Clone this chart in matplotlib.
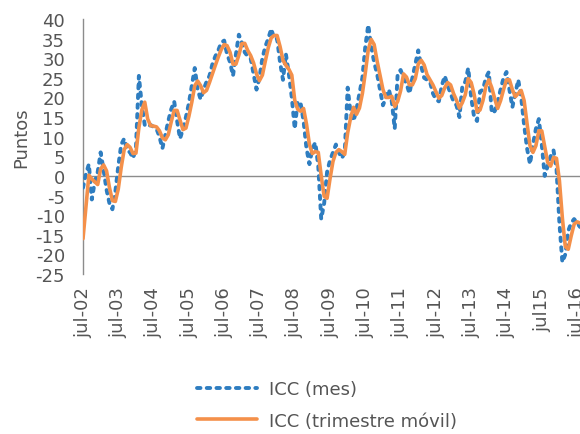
import matplotlib
matplotlib.use("Agg")
import matplotlib.pyplot as plt

# Monthly ICC index, jul-02 .. aug-16
icc_mes = [
    -3, 0.5, 3, -6, -1.5, 1, 6, 1.5, -3.5, -7, -8.5, -4,
    2.5, 8, 9.5, 6.5, 6, 4.5, 7, 25.5, 18, 13, 12.5, 13,
    12.5, 12, 10, 7, 10.5, 14, 17, 19, 14, 9.5, 12, 15,
    18.5, 23, 27.5, 22, 19.5, 22, 24, 25.5, 28.5, 30.5, 32, 34,
    34.5, 31, 29, 25.5, 31, 36, 34, 31.5, 30.5, 30, 26, 22,
    25, 30, 33, 35, 37.5, 35, 35, 29, 24.5, 31, 26, 20,
    12, 19, 18.5, 14, 7, 3, 7, 8.5, 2.5, -11, -7, 1,
    4, 6, 8, 6, 4.5, 6, 22.5, 16, 14, 17, 21, 25,
    33, 38.5, 33, 29, 26, 22, 18, 20, 22, 19, 12, 26,
    27, 25, 23.5, 21, 25, 28.5, 32, 28, 25, 24.5, 24, 21,
    19.5, 19, 23, 25.5, 23, 21, 19, 18, 15, 23, 24, 27.5,
    20, 15, 14, 21.5, 22, 25, 26.5, 16, 16.5, 19, 22, 25,
    26.5, 22, 17.5, 21, 24.5, 20, 13, 7, 3, 8, 12, 14.5,
    8, 0, 2.5, 5, 6.5, 2, -12, -22, -20, -14, -12, -11,
    -12, -13,
]

# Rolling-quarter ICC
icc_trim = [
    -16, -8, 0.2, -0.8, -1.5, -2.2, 1.8, 2.8, 1.3, -3, -6.3, -6.5,
    -3.3, 2.2, 6.7, 8, 7.3, 5.7, 5.8, 12.3, 16.8, 18.8, 14.5, 12.8,
    12.7, 12.5, 11.5, 9.7, 9.2, 10.5, 13.8, 16.7, 16.7, 14.2, 11.8, 12.2,
    15.2, 18.8, 23, 24.2, 23, 21.2, 21.8, 23.8, 26, 28.2, 30.3, 32.2,
    33.5, 33.2, 31.5, 28.5, 28.5, 30.8, 33.7, 33.8, 32, 30.7, 28.8, 26,
    24.3, 25.7, 29.3, 32.7, 35.2, 35.8, 35.8, 33, 29.5, 28.2, 27.2, 25.7,
    19.3, 17, 16.5, 17.2, 13.2, 8, 5.7, 6.2, 6, 0, -5.2, -5.7,
    -0.7, 3.7, 6, 6.7, 6.2, 5.5, 11, 14.8, 17.5, 15.7, 17.3, 21,
    26.3, 32.2, 34.8, 33.5, 29.3, 25.7, 22, 20, 20, 20.3, 17.7, 19,
    21.7, 26, 25.2, 23.2, 23.2, 24.8, 28.5, 29.5, 28.3, 25.8, 24.5, 23.2,
    21.5, 19.8, 20.5, 22.5, 23.8, 23.2, 21, 19.3, 17.3, 18.7, 20.7, 24.8,
    23.8, 20.8, 16.3, 16.8, 19.2, 22.8, 24.5, 22.5, 19.7, 17.2, 19.2, 22,
    24.5, 24.5, 22, 20.2, 21, 21.8, 19.2, 13.3, 7.7, 6, 7.7, 11.5,
    11.5, 7.5, 3.5, 2.5, 4.7, 4.5, -1.2, -10.7, -18, -18.7, -15.3, -12.3,
    -11.7, -12,
]

tick_labels = ["jul-02", "jul-03", "jul-04", "jul-05", "jul-06", "jul-07",
               "jul-08", "jul-09", "jul-10", "jul-11", "jul-12", "jul-13",
               "jul-14", "jul15", "jul-16"]
y_ticks = [40, 35, 30, 25, 20, 15, 10, 5, 0, -5, -10, -15, -20, -25]

plt.rcParams['font.family'] = ['DejaVu Sans']
TXT = '#555555'
BLUE = '#2E7DC0'
ORANGE = '#F4904A'

fig = plt.figure(figsize=(5.8, 4.35), dpi=100)
ax = fig.add_axes([83/580, 160/435, 1 - 83/580, 255/435])

x = list(range(len(icc_mes)))
ax.plot(x, icc_mes, color=BLUE, lw=2.8, linestyle=(0, (0.9, 1.6)),
        dash_capstyle='round', label='ICC (mes)', zorder=3)
ax.plot(x, icc_trim, color=ORANGE, lw=2.6, solid_capstyle='round',
        solid_joinstyle='round', label='ICC (trimestre móvil)', zorder=4)

ax.axhline(0, color='#8c8c8c', lw=1.0, zorder=2)
ax.set_xlim(0, len(icc_mes) - 1)
ax.set_ylim(-25, 40)
ax.set_yticks(y_ticks)
ax.set_yticklabels([str(v) for v in y_ticks])
ax.set_xticks([12 * k for k in range(len(tick_labels))])
ax.set_xticklabels(tick_labels, rotation=90)

for s in ['top', 'right', 'bottom']:
    ax.spines[s].set_visible(False)
ax.spines['left'].set_color('#8c8c8c')
ax.spines['left'].set_linewidth(1.0)
ax.tick_params(axis='y', length=0, pad=13, labelsize=13, labelcolor=TXT)
ax.tick_params(axis='x', length=0, pad=9, labelsize=13, labelcolor=TXT)

ax.set_ylabel('Puntos', fontsize=13, color=TXT)
ax.yaxis.set_label_coords(-0.107, 0.54)

leg = fig.legend(loc='center left', bbox_to_anchor=(188/580, 1 - 406/435),
                 frameon=False, fontsize=13, handlelength=3.3,
                 handletextpad=0.7, labelspacing=0.75, borderpad=0)
for t in leg.get_texts():
    t.set_color(TXT)

fig.savefig('out.png', dpi=100)
